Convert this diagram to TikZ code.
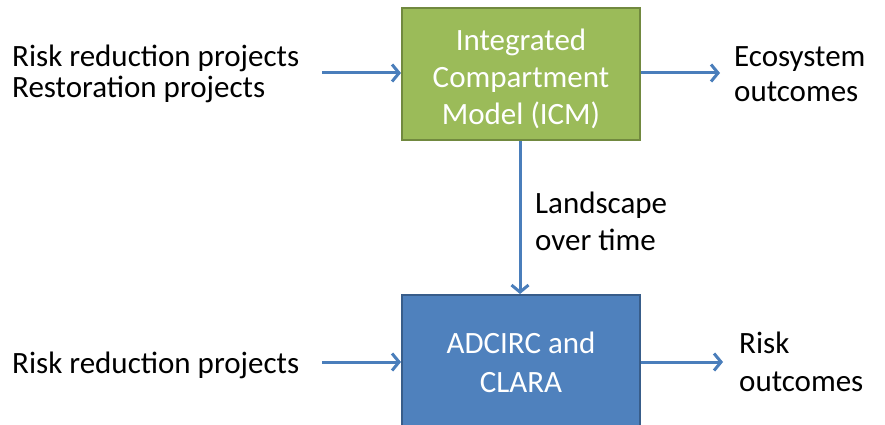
\documentclass[tikz,border=0pt]{standalone}
\usepackage{fontspec}
\setmainfont{Carlito}
\usetikzlibrary{arrows.meta,positioning,calc}
\definecolor{icmgreen}{HTML}{9BBB59}
\definecolor{icmgreenline}{HTML}{71893F}
\definecolor{surgeblue}{HTML}{4F81BD}
\definecolor{surgeblueline}{HTML}{385D8A}
\definecolor{linkblue}{HTML}{4A7EBB}
\tikzset{
  box/.style={draw, line width=2pt, align=center, text=white, inner sep=0pt,
    minimum width=238pt, font=\fontsize{31}{37}\selectfont},
  greenbox/.style={box, fill=icmgreen, draw=icmgreenline, minimum height=132pt},
  bluebox/.style={box, fill=surgeblue, draw=surgeblueline, minimum height=135pt,
    font=\fontsize{31}{39}\selectfont},
  label/.style={align=left, inner sep=0pt, anchor=base west},
  arrow/.style={-{Straight Barb[length=7pt, width=17pt]}, line width=3pt, draw=linkblue}
}

\begin{document}
\begin{tikzpicture}[x=1pt, y=-1pt]
  \useasboundingbox (0,0) rectangle (885,425);
  \node[greenbox] (icm) at (521,74) {\rule{0pt}{32pt}Integrated\\Compartment\\Model (ICM)};
  \node[bluebox] (adcirc) at (521,362.5) {ADCIRC and\\CLARA};
  % inputs and outputs (anchored at the baseline of the last line)
  \node[label, font=\fontsize{31}{31}\selectfont] (projtop) at (12,98) {Risk reduction projects\\Restoration projects};
  \node[label, font=\fontsize{31}{35}\selectfont] (ecoout) at (734,102) {Ecosystem\\outcomes};
  \node[label, font=\fontsize{31}{37}\selectfont] (landscape) at (535,250) {Landscape\\over time};
  \node[label, font=\fontsize{31}{31}\selectfont] (projbot) at (12,373) {Risk reduction projects};
  \node[label, font=\fontsize{31}{38}\selectfont] (riskout) at (739,391) {Risk\\outcomes};
  % free ends of the arrows
  \coordinate (intop) at (322,73);
  \coordinate (inbot) at (322,362);
  \coordinate (outtop) at (720,73);
  \coordinate (outbot) at (723,362);
  \draw[arrow] (intop) -- (intop -| icm.west);
  \draw[arrow] (outtop -| icm.east) -- (outtop);
  \draw[arrow] (icm.south -| 520,0) -- (adcirc.north -| 520,0);
  \draw[arrow] (inbot) -- (inbot -| adcirc.west);
  \draw[arrow] (outbot -| adcirc.east) -- (outbot);
\end{tikzpicture}
\end{document}
